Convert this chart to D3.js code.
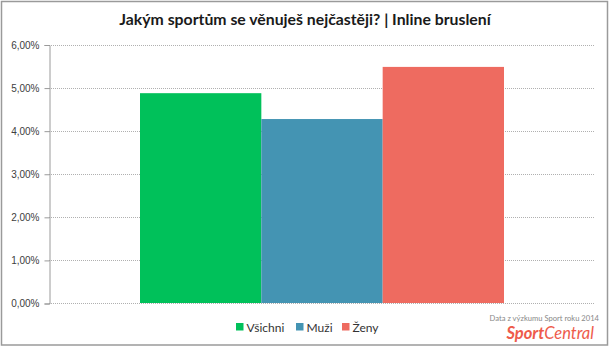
<!doctype html>
<html lang="cs">
<head>
<meta charset="UTF-8">
<script src="https://d3js.org/d3.v7.min.js"></script>
<style>
body { margin: 0; background: #fff; }
svg { display: block; font-family: Lato, "Open Sans", sans-serif; }
.grid line { stroke: #b0b0b0; stroke-dasharray: 1,1; }
.tick text { fill: #404040; font-size: 10px; }
</style>
</head>
<body>
<div id="chart"></div>
<script>
var title = "Jakým sportům se věnuješ nejčastěji? | Inline bruslení";
var series = ["Všichni", "Muži", "Ženy"];
var values = [0.0487, 0.0427, 0.0548];
var colors = ["#00c15a", "#4494b3", "#ee6b60"];
var yTicks = [0, 0.01, 0.02, 0.03, 0.04, 0.05, 0.06];

var W = 610, H = 348;
var plotL = 49, plotR = 595, plotT = 44.5, plotB = 303;

var svg = d3.select("#chart").append("svg")
  .attr("width", W).attr("height", H);

// frame
svg.append("rect")
  .attr("x", 1.5).attr("y", 1.5)
  .attr("width", 606).attr("height", 343.5)
  .attr("fill", "#fff").attr("stroke", "#9a9a9a").attr("stroke-width", 1.5);

svg.append("text")
  .attr("x", 305).attr("y", 25)
  .attr("text-anchor", "middle")
  .attr("font-size", 15.8).attr("font-weight", "bold")
  .attr("fill", "#1a1a1a")
  .text(title);

var y = d3.scaleLinear().domain([0, 0.06]).range([plotB, plotT]);
var x = d3.scaleBand().domain(series).range([140, 504]);

var fmt = function(d) { return d3.format(".2f")(d * 100).replace(".", ",") + "%"; };

// gridlines
svg.append("g").attr("class", "grid")
  .selectAll("line").data(yTicks).enter().append("line")
  .attr("x1", plotL).attr("x2", plotR)
  .attr("y1", function(d) { return Math.round(y(d)) + 0.5; })
  .attr("y2", function(d) { return Math.round(y(d)) + 0.5; });

svg.selectAll(".bar").data(values).enter().append("rect")
  .attr("class", "bar")
  .attr("x", function(d, i) { return x(series[i]); })
  .attr("width", x.bandwidth())
  .attr("y", function(d) { return y(d); })
  .attr("height", function(d) { return plotB - y(d); })
  .attr("fill", function(d, i) { return colors[i]; });

var yAxis = svg.append("g")
  .attr("transform", "translate(" + (plotL + 0.5) + ",0.5)")
  .call(d3.axisLeft(y).tickValues(yTicks).tickFormat(fmt).tickSize(5).tickPadding(5));
yAxis.select(".domain").attr("stroke", "#9a9a9a");
yAxis.selectAll(".tick line").attr("stroke", "#9a9a9a");

// legend
var legX = [236, 296, 342];
var leg = svg.selectAll(".leg").data(series).enter().append("g")
  .attr("class", "leg")
  .attr("transform", function(d, i) { return "translate(" + legX[i] + ",323)"; });
leg.append("rect").attr("width", 7.5).attr("height", 7.5)
  .attr("fill", function(d, i) { return colors[i]; });
leg.append("text").attr("x", 10.5).attr("y", 8.5)
  .attr("font-size", 12).attr("fill", "#333")
  .text(function(d) { return d; });

// source
svg.append("text")
  .attr("x", 599).attr("y", 321).attr("text-anchor", "end")
  .attr("font-size", 7.6).attr("fill", "#888")
  .text("Data z výzkumu Sport roku 2014");
var brand = svg.append("text")
  .attr("x", 594).attr("y", 339).attr("text-anchor", "end")
  .attr("font-size", 16.5).attr("font-style", "italic").attr("fill", "#ee5b4b");
brand.append("tspan").attr("font-weight", "bold").text("Sport");
brand.append("tspan").text("Central");
</script>
</body>
</html>
